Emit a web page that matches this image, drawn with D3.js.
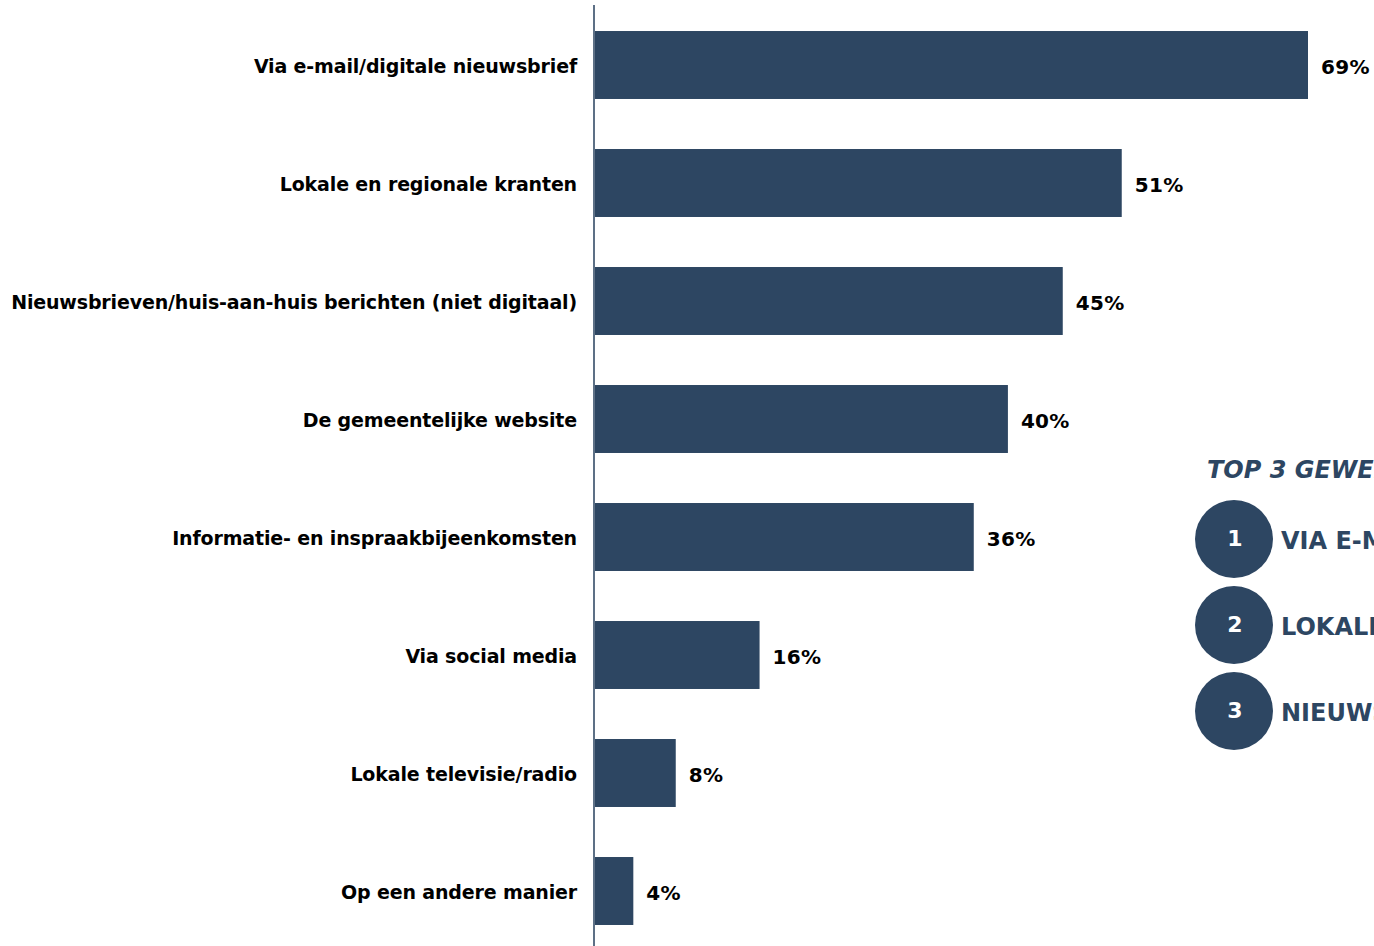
<!DOCTYPE html>
<html><head><meta charset="utf-8">
<script src="https://cdn.jsdelivr.net/npm/d3@7"></script>
<style>
html,body{margin:0;padding:0;background:#fff;overflow:hidden;}
svg{display:block;font-family:"DejaVu Sans",Verdana,sans-serif;}
</style></head>
<body><svg id="c" width="1374" height="946"></svg>
<script>
const categories = [
  "Via e-mail/digitale nieuwsbrief",
  "Lokale en regionale kranten",
  "Nieuwsbrieven/huis-aan-huis berichten (niet digitaal)",
  "De gemeentelijke website",
  "Informatie- en inspraakbijeenkomsten",
  "Via social media",
  "Lokale televisie/radio",
  "Op een andere manier"
];
const values = [69, 51, 45.3, 40, 36.7, 16, 7.9, 3.8];
const valueLabels = ["69%", "51%", "45%", "40%", "36%", "16%", "8%", "4%"];
const topTitle = "TOP 3 GEWENSTE KANALEN";
const topRanks = ["1", "2", "3"];
const topItems = ["VIA E-MAIL/DIGITALE NIEUWSBRIEF", "LOKALE EN REGIONALE KRANTEN", "NIEUWSBRIEVEN/HUIS-AAN-HUIS BERICHTEN"];

const svg = d3.select("#c");
const barColor = "#2d4662";
const x = d3.scaleLinear().domain([0, 69]).range([594, 1308]);
const y = d3.scaleBand().domain(categories).range([6, 950]).paddingInner(0.424).paddingOuter(0.212);

svg.append("g").selectAll("rect").data(categories).join("rect")
  .attr("x", x(0)).attr("y", d => y(d))
  .attr("width", (d,i) => x(values[i]) - x(0))
  .attr("height", y.bandwidth())
  .attr("fill", barColor);

svg.append("line").attr("x1", x(0)).attr("x2", x(0)).attr("y1", 5).attr("y2", 946)
  .attr("stroke", "#5d7086").attr("stroke-width", 2);

svg.append("g").selectAll("text").data(categories).join("text")
  .attr("x", 577).attr("y", d => y(d) + y.bandwidth()/2 + 1)
  .attr("dy", "0.35em").attr("text-anchor", "end")
  .attr("font-size", 19).attr("font-weight", "bold").attr("fill", "#000")
  .attr("letter-spacing", "-0.15")
  .text(d => d);

svg.append("g").selectAll("text").data(categories).join("text")
  .attr("x", (d,i) => x(values[i]) + 13).attr("y", d => y(d) + y.bandwidth()/2 + 1)
  .attr("dy", "0.38em")
  .attr("font-size", 20).attr("font-weight", "bold").attr("fill", "#000")
  .attr("letter-spacing", "0.3")
  .text((d,i) => valueLabels[i]);

// Top 3 panel
svg.append("text").attr("x", 1207).attr("y", 478)
  .attr("font-size", 24).attr("font-weight", "bold").attr("font-style", "italic")
  .attr("fill", barColor).text(topTitle);

const ry = d3.scalePoint().domain(topRanks).range([539, 711]);
const g = svg.append("g").selectAll("g").data(topRanks).join("g");
g.append("circle").attr("cx", 1234).attr("cy", d => ry(d)).attr("r", 39).attr("fill", barColor);
g.append("text").attr("x", 1235).attr("y", d => ry(d) - 1).attr("dy", "0.35em")
  .attr("text-anchor", "middle").attr("font-size", 22).attr("font-weight", "bold")
  .attr("fill", "#fff").text(d => d);
g.append("text").attr("x", 1281).attr("y", d => ry(d) + 2).attr("dy", "0.35em")
  .attr("font-size", 24).attr("font-weight", "bold").attr("fill", barColor)
  .text((d,i) => topItems[i]);
</script></body></html>
